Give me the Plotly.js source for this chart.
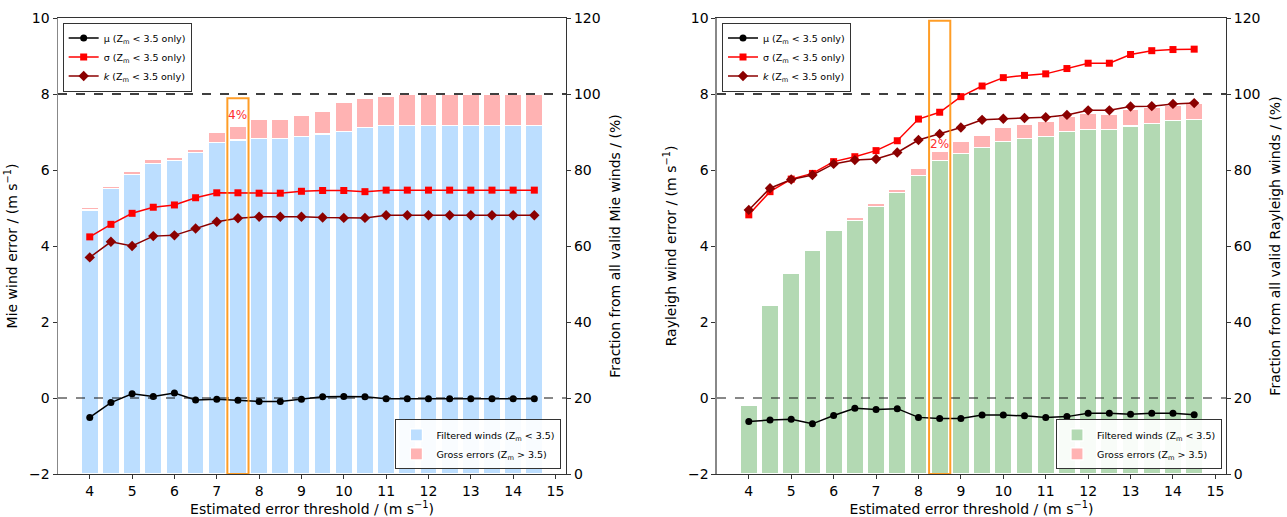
<!DOCTYPE html>
<html>
<head>
<meta charset="utf-8">
<script src="https://cdn.plot.ly/plotly-3.0.1.min.js"></script>
<style>html,body{margin:0;padding:0;background:#fff;}#chart{width:1287px;height:517px;}</style>
</head>
<body>
<div id="chart"></div>
<script>
// thresholds (x)
const thresholds = [4,4.5,5,5.5,6,6.5,7,7.5,8,8.5,9,9.5,10,10.5,11,11.5,12,12.5,13,13.5,14,14.5];
const xTicks = [4,5,6,7,8,9,10,11,12,13,14,15];

// Mie panel
const mieFiltered = [69.5,75.2,78.9,81.8,82.4,84.6,87.3,87.9,88.3,88.3,88.9,89.5,90.1,91.1,91.7,91.7,91.7,91.7,91.7,91.7,91.7,91.7];
const mieGross    = [0.6,0.4,0.7,1.0,0.9,0.9,2.6,3.7,5.1,5.1,5.6,5.8,7.6,7.8,7.7,8.2,8.2,8.2,8.2,8.2,8.2,8.2];
const mieMu    = [-0.51,-0.12,0.11,0.04,0.13,-0.05,-0.03,-0.06,-0.09,-0.09,-0.03,0.03,0.04,0.03,-0.02,-0.02,-0.02,-0.02,-0.02,-0.02,-0.02,-0.02];
const mieSigma = [4.24,4.57,4.86,5.02,5.08,5.27,5.40,5.40,5.39,5.39,5.44,5.46,5.46,5.43,5.47,5.47,5.47,5.47,5.47,5.47,5.47,5.47];
const mieK     = [3.70,4.11,4.00,4.26,4.28,4.46,4.64,4.73,4.77,4.77,4.77,4.75,4.74,4.74,4.81,4.81,4.81,4.81,4.81,4.81,4.81,4.81];

// Rayleigh panel
const rayFiltered = [18.0,44.5,52.8,58.8,64.0,66.8,70.5,74.1,78.5,82.4,84.4,85.9,87.4,88.3,88.9,90.1,90.7,90.7,91.6,92.3,93.0,93.2];
const rayGross    = [0,0,0,0,0.5,0.7,0.7,0.8,1.9,2.4,3.1,3.1,3.7,3.8,3.9,3.9,4.2,4.0,4.4,4.2,4.1,4.4];
const rayMu    = [-0.62,-0.58,-0.56,-0.68,-0.46,-0.27,-0.30,-0.28,-0.51,-0.54,-0.54,-0.45,-0.45,-0.47,-0.51,-0.49,-0.40,-0.40,-0.43,-0.40,-0.40,-0.44];
const raySigma = [4.82,5.43,5.76,5.91,6.22,6.35,6.51,6.77,7.34,7.52,7.93,8.21,8.43,8.49,8.53,8.67,8.81,8.81,9.04,9.14,9.17,9.18];
const rayK     = [4.95,5.52,5.75,5.87,6.16,6.26,6.29,6.46,6.79,6.95,7.12,7.32,7.35,7.37,7.39,7.45,7.57,7.57,7.67,7.68,7.74,7.76];

// highlight boxes & labels
const mieBox = {x0:7.25, x1:7.75, top:7.89, label:'4%', labelY:7.45, labelX:7.5};
const rayBox = {x0:8.25, x1:8.75, top:9.93, label:'2%', labelY:6.68, labelX:8.5};

const FONT = 'DejaVu Sans, sans-serif';
const barLine = {color:'#ffffff', width:1.2};

function barTrace(y, color, name, xa, ya, leg){
  return {type:'bar', x:thresholds, y:y, width:0.4, name:name, xaxis:xa, yaxis:ya, legend:leg,
          marker:{color:color, line:barLine}, hoverinfo:'skip'};
}
function lineTrace(y, color, symbol, size, name, xa, ya, leg){
  return {type:'scatter', mode:'lines+markers', x:thresholds, y:y, name:name, xaxis:xa, yaxis:ya, legend:leg,
          line:{color:color, width:1.5}, marker:{color:color, symbol:symbol, size:size}};
}
const nMu = 'μ (Z<sub>m</sub> &lt; 3.5 only)';
const nSig = 'σ (Z<sub>m</sub> &lt; 3.5 only)';
const nK = '<i>k</i> (Z<sub>m</sub> &lt; 3.5 only)';
const nF = 'Filtered winds (Z<sub>m</sub> &lt; 3.5)';
const nG = 'Gross errors (Z<sub>m</sub> &gt; 3.5)';

const traces = [
  barTrace(mieFiltered, '#bcdeff', nF, 'x', 'y', 'legend2'),
  barTrace(mieGross, '#ffb3b3', nG, 'x', 'y', 'legend2'),
  lineTrace(mieMu, '#000000', 'circle', 7, nMu, 'x', 'y2', 'legend'),
  lineTrace(mieSigma, '#ff0000', 'square', 7, nSig, 'x', 'y2', 'legend'),
  lineTrace(mieK, '#8b0000', 'diamond', 8, nK, 'x', 'y2', 'legend'),
  barTrace(rayFiltered, '#b3d9b3', nF, 'x2', 'y3', 'legend4'),
  barTrace(rayGross, '#ffb3b3', nG, 'x2', 'y3', 'legend4'),
  lineTrace(rayMu, '#000000', 'circle', 7, nMu, 'x2', 'y4', 'legend3'),
  lineTrace(raySigma, '#ff0000', 'square', 7, nSig, 'x2', 'y4', 'legend3'),
  lineTrace(rayK, '#8b0000', 'diamond', 8, nK, 'x2', 'y4', 'legend3')
];

const tickFont = {family:FONT, size:14, color:'#000'};
const titleFont = {family:FONT, size:14, color:'#000'};
function xAxis(domain, anchor){
  return {domain:domain, anchor:anchor, range:[3.25,15.25], tickmode:'array', tickvals:xTicks,
    ticks:'outside', ticklen:4, tickcolor:'#333', showline:true, linecolor:'#333', linewidth:1, mirror:true,
    showgrid:false, zeroline:false, tickfont:tickFont,
    title:{text:'Estimated error threshold / (m s<sup>−1</sup>)', font:titleFont, standoff:4}};
}
function fracAxis(anchor, title){
  return {anchor:anchor, side:'right', range:[0,120], dtick:20, tick0:0, ticks:'outside', ticklen:4, tickcolor:'#333',
    showline:true, linecolor:'#333', linewidth:1, showgrid:false, zeroline:false, tickfont:tickFont,
    title:{text:title, font:titleFont, standoff:10}};
}
function windAxis(anchor, over, title){
  return {anchor:anchor, overlaying:over, side:'left', range:[-2,10], dtick:2, tick0:0, ticks:'outside', ticklen:4, tickcolor:'#333',
    showline:true, linecolor:'#888', linewidth:1.5, showgrid:false, zeroline:false, tickfont:tickFont,
    title:{text:title, font:titleFont, standoff:8}};
}

function panelShapes(xa, ya, box){
  return [
    {type:'line', xref:xa+' domain', x0:0, x1:1, yref:ya, y0:8, y1:8, line:{color:'#000', width:1.5, dash:'dash'}, layer:'above'},
    {type:'line', xref:xa+' domain', x0:0, x1:1, yref:ya, y0:0, y1:0, line:{color:'#111', width:1, dash:'dash'}, layer:'above'},
    {type:'rect', xref:xa, yref:ya, x0:box.x0, x1:box.x1, y0:-2, y1:box.top, line:{color:'rgba(255,140,0,0.85)', width:2}, fillcolor:'rgba(0,0,0,0)', layer:'above'}
  ];
}
const legendBase = {font:{family:FONT, size:9.5, color:'#000'}, bgcolor:'rgba(255,255,255,0.9)', bordercolor:'#333', borderwidth:1,
  tracegroupgap:0, traceorder:'normal'};

const layout = {
  width:1287, height:517, margin:{l:58, r:61, t:18, b:43},
  paper_bgcolor:'#fff', plot_bgcolor:'rgba(0,0,0,0)',
  barmode:'stack', bargap:0,
  font:{family:FONT, color:'#000'},
  xaxis: xAxis([0,0.435], 'y'),
  yaxis: fracAxis('x', 'Fraction from all valid Mie winds / (%)'),
  yaxis2: windAxis('x', 'y', 'Mie wind error / (m s<sup>−1</sup>)'),
  xaxis2: xAxis([0.5642,1], 'y3'),
  yaxis3: fracAxis('x2', 'Fraction from all valid Rayleigh winds / (%)'),
  yaxis4: windAxis('x2', 'y3', 'Rayleigh wind error / (m s<sup>−1</sup>)'),
  shapes: panelShapes('x','y2',mieBox).concat(panelShapes('x2','y4',rayBox)),
  annotations: [
    {x:mieBox.labelX, y:mieBox.labelY, xref:'x', yref:'y2', text:mieBox.label, showarrow:false, font:{family:FONT, size:12, color:'#ff3030'}},
    {x:rayBox.labelX, y:rayBox.labelY, xref:'x2', yref:'y4', text:rayBox.label, showarrow:false, font:{family:FONT, size:12, color:'#ff3030'}}
  ],
  legend: Object.assign({}, legendBase, {x:0.004, y:0.99, xanchor:'left', yanchor:'top'}),
  legend2: Object.assign({}, legendBase, {x:0.431, y:0.01, xanchor:'right', yanchor:'bottom'}),
  legend3: Object.assign({}, legendBase, {x:0.5685, y:0.99, xanchor:'left', yanchor:'top'}),
  legend4: Object.assign({}, legendBase, {x:0.9966, y:0.01, xanchor:'right', yanchor:'bottom'}),
  showlegend:true
};

Plotly.newPlot('chart', traces, layout, {staticPlot:true, displayModeBar:false});
</script>
</body>
</html>
